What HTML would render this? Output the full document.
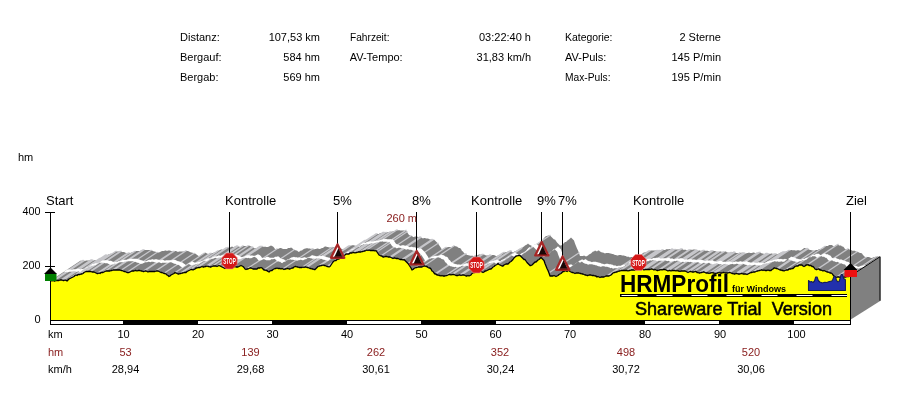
<!DOCTYPE html>
<html lang="de"><head><meta charset="utf-8"><title>HRMProfil</title>
<style>
html,body{margin:0;padding:0;background:#fff;}
body{width:900px;height:400px;overflow:hidden;font-family:"Liberation Sans",Arial,sans-serif;}
svg{display:block;font-family:"Liberation Sans",Arial,sans-serif;}
.t11{font-size:11px;fill:#000;}
.t13{font-size:13px;fill:#000;}
.m{fill:#8a2020;}
</style></head><body>
<svg width="900" height="400" viewBox="0 0 900 400">
<rect width="900" height="400" fill="#fff"/>
<!-- header -->
<g class="t11">
<text x="180" y="41">Distanz:</text><text x="320" y="41" text-anchor="end">107,53 km</text>
<text x="180" y="61">Bergauf:</text><text x="320" y="61" text-anchor="end">584 hm</text>
<text x="180" y="81">Bergab:</text><text x="320" y="81" text-anchor="end">569 hm</text>
<text x="350" y="41" textLength="39.5" lengthAdjust="spacingAndGlyphs">Fahrzeit:</text><text x="531" y="41" text-anchor="end">03:22:40 h</text>
<text x="349.7" y="61">AV-Tempo:</text><text x="531" y="61" text-anchor="end">31,83 km/h</text>
<text x="565" y="41" textLength="47.5" lengthAdjust="spacingAndGlyphs">Kategorie:</text><text x="721" y="41" text-anchor="end">2 Sterne</text>
<text x="565" y="61">AV-Puls:</text><text x="721" y="61" text-anchor="end">145 P/min</text>
<text x="565" y="81" textLength="45.5" lengthAdjust="spacingAndGlyphs">Max-Puls:</text><text x="721" y="81" text-anchor="end">195 P/min</text>
<text x="18" y="161">hm</text>
<text x="40.5" y="215" text-anchor="end" textLength="18" lengthAdjust="spacingAndGlyphs">400</text>
<text x="40.5" y="269" text-anchor="end" textLength="18" lengthAdjust="spacingAndGlyphs">200</text>
<text x="40.5" y="323" text-anchor="end">0</text>
</g>
<!-- axis -->
<path d="M50.5 212V282M45 212.5H55M45 266.5H55" stroke="#000" stroke-width="1" fill="none"/>
<!-- profile -->
<polygon points="50,281 51,280.5 52,281 53,280.5 54,281 55,281 56,280.5 57,280.5 58,280.5 59,280.5 60,280 61,280 62,280 63,280.5 64,280.5 65,280 66,280.5 67,281 68,280 69,279 70,278.5 71,278 72,277.5 73,277 74,276.5 75,275.5 76,275 77,275.5 78,274.5 79,274.5 80,274.5 81,274 82,274 83,273.5 84,272.5 85,272 86,271.5 87,271.5 88,271.5 89,271.5 90,271.5 91,271.5 92,272 93,272 94,272 95,272.5 96,273 97,273.5 98,273.5 99,273 100,273.5 101,272.5 102,272.5 103,272.5 104,272 105,271.5 106,271 107,271 108,271 109,271 110,271 111,270.5 112,270.5 113,270 114,270 115,270 116,270 117,270 118,270 119,270 120,270 121,270.5 122,270.5 123,271 124,271.5 125,271.5 126,272 127,272.5 128,272.5 129,272.5 130,272 131,271.5 132,271 133,271 134,271 135,270.5 136,270.5 137,271 138,270.5 139,270.5 140,270.5 141,271 142,271 143,271.5 144,271.5 145,271 146,271 147,271.5 148,272 149,271.5 150,271.5 151,271.5 152,271.5 153,271.5 154,271.5 155,271.5 156,271 157,271 158,271 159,271.5 160,272 161,272.5 162,272.5 163,273 164,273.5 165,273.5 166,274 167,275 168,275.5 169,276.5 170,276 171,275 172,274.5 173,274 174,273.5 175,272.5 176,273 177,273.5 178,274 179,274 180,273.5 181,273.5 182,273 183,273 184,272.5 185,272.5 186,272.5 187,271.5 188,271 189,270.5 190,270 191,269.5 192,269.5 193,270 194,269.5 195,269 196,268 197,268 198,267.5 199,267.5 200,267.5 201,267 202,266.5 203,267 204,267 205,266.5 206,266.5 207,266 208,266.5 209,266.5 210,267 211,267 212,266.5 213,266 214,266 215,266 216,266 217,266.5 218,266 219,265.5 220,266 221,266.5 222,267 223,267.5 224,268 225,268.5 226,268 227,268 228,267.5 229,267 230,266.5 231,266.5 232,266.5 233,266.5 234,267 235,266.5 236,267 237,267 238,267 239,266.5 240,266 241,265.5 242,266 243,266.5 244,267.5 245,269 246,269.5 247,269 248,269 249,268.5 250,268 251,268 252,268.5 253,269 254,269 255,269 256,269 257,269 258,268 259,268 260,268 261,267.5 262,268 263,269 264,270 265,270 266,270.5 267,270.5 268,271.5 269,272 270,271 271,270.5 272,270.5 273,269.5 274,269 275,268.5 276,268.5 277,268 278,268.5 279,268.5 280,268.5 281,269 282,268.5 283,269 284,269.5 285,269 286,269 287,268.5 288,268.5 289,269 290,269 291,268.5 292,268 293,268 294,267 295,266.5 296,266.5 297,267 298,267 299,267.5 300,267.5 301,267.5 302,267.5 303,267 304,267.5 305,267 306,267 307,267.5 308,267.5 309,268 310,268.5 311,268.5 312,269 313,269 314,269.5 315,269.5 316,268.5 317,267.5 318,266.5 319,266 320,266 321,265.5 322,265.5 323,265 324,265.5 325,265.5 326,266 327,266.5 328,266.5 329,267 330,266.5 331,265 332,263.5 333,262 334,261 335,260.5 336,260.5 337,259.5 338,259 339,259 340,258.5 341,257.5 342,256.5 343,256.5 344,255.5 345,255 346,254 347,254 348,254 349,254 350,253 351,253 352,253 353,252.5 354,252.5 355,253 356,252.5 357,252.5 358,252 359,252 360,252 361,252 362,251.5 363,251.5 364,251 365,251 366,250.5 367,250 368,250.5 369,250 370,250.5 371,250.5 372,250.5 373,250.5 374,250.5 375,251 376,250.5 377,252 378,253.5 379,255 380,255.5 381,256 382,256 383,257 384,257 385,256.5 386,256.5 387,256.5 388,257 389,257 390,257 391,257.5 392,258 393,258.5 394,258 395,258 396,258.5 397,258.5 398,258.5 399,259 400,259.5 401,259.5 402,259.5 403,260 404,259.5 405,260.5 406,261.5 407,262.5 408,263.5 409,265 410,266.5 411,268 412,270 413,269.5 414,268.5 415,268 416,267.5 417,267.5 418,267 419,267 420,267 421,267 422,267 423,266.5 424,266 425,266 426,266.5 427,266.5 428,267.5 429,268 430,268 431,269 432,271 433,271.5 434,273 435,274 436,274 437,275 438,275 439,275.5 440,275.5 441,276 442,275.5 443,276 444,276 445,276 446,275.5 447,275.5 448,275 449,274.5 450,274.5 451,275 452,274.5 453,274.5 454,274.5 455,275 456,275.5 457,275.5 458,275.5 459,275 460,275 461,275.5 462,275 463,275 464,275 465,275.5 466,276 467,276 468,275.5 469,276 470,275.5 471,275 472,273.5 473,273 474,272.5 475,272.5 476,272 477,272 478,271.5 479,271.5 480,271 481,271 482,272 483,272.5 484,272 485,271 486,271 487,270.5 488,270 489,269.5 490,269 491,269 492,268 493,267 494,266.5 495,265.5 496,265 497,264.5 498,263.5 499,264.5 500,265 501,265.5 502,266 503,266 504,265 505,264.5 506,264 507,264 508,264 509,263 510,262 511,261.5 512,260.5 513,259.5 514,258 515,257 516,256 517,256 518,255.5 519,255.5 520,255.5 521,256.5 522,257.5 523,258.5 524,259.5 525,259.5 526,261 527,262.5 528,263.5 529,264.5 530,265.5 531,265.5 532,265 533,264 534,263 535,262 536,262 537,261 538,260 539,259.5 540,258.5 541,257.5 542,258.5 543,259.5 544,260.5 545,263.5 546,266 547,268.5 548,270.5 549,273 550,276 551,276 552,276 553,276 554,275.5 555,276 556,276.5 557,276 558,275.5 559,274.5 560,274 561,273.5 562,272.5 563,271.5 564,271.5 565,270.5 566,271 567,271.5 568,270.5 569,270.5 570,271.5 571,272 572,272.5 573,272.5 574,273 575,273.5 576,273 577,273 578,273 579,273 580,273.5 581,273.5 582,274 583,274 584,274.5 585,275 586,275 587,275.5 588,275.5 589,275 590,275 591,275 592,275.5 593,275.5 594,275.5 595,276 596,276 597,277 598,276.5 599,277 600,277.5 601,277 602,277 603,277 604,277 605,276.5 606,276 607,276 608,276 609,276 610,275.5 611,275 612,274 613,273 614,272.5 615,272.5 616,272 617,272 618,271.5 619,271 620,271 621,270.5 622,270.5 623,270.5 624,270.5 625,270.5 626,270.5 627,270.5 628,271 629,270.5 630,270.5 631,270 632,270 633,270 634,270 635,270 636,269.5 637,269 638,269.5 639,269 640,269 641,269 642,269 643,269.5 644,270 645,269.5 646,269.5 647,269.5 648,269.5 649,269.5 650,269.5 651,269 652,269 653,269.5 654,270 655,269.5 656,270 657,270.5 658,270.5 659,270 660,270 661,269.5 662,270 663,269.5 664,269.5 665,269.5 666,270 667,270.5 668,271 669,270.5 670,270.5 671,271 672,270.5 673,270.5 674,270.5 675,270.5 676,271 677,270.5 678,271 679,271 680,271.5 681,271 682,271 683,271 684,271 685,271 686,271.5 687,272 688,272.5 689,272 690,271.5 691,271.5 692,272 693,272 694,272 695,271.5 696,271.5 697,272.5 698,272.5 699,273 700,273 701,272.5 702,272.5 703,272 704,272 705,272.5 706,273 707,273 708,273 709,273.5 710,273 711,273 712,272.5 713,273 714,273 715,273.5 716,273.5 717,273 718,273 719,272.5 720,273 721,273 722,273 723,272.5 724,272.5 725,273 726,273 727,273 728,273 729,272.5 730,272.5 731,273 732,273.5 733,273.5 734,274 735,274 736,273.5 737,273.5 738,274 739,274 740,274 741,273.5 742,273.5 743,274 744,274 745,274 746,274 747,274.5 748,274 749,273.5 750,273 751,272.5 752,272.5 753,272 754,272 755,272 756,271.5 757,271 758,271 759,270.5 760,270.5 761,270 762,270 763,270.5 764,270 765,270.5 766,270.5 767,270.5 768,270 769,270.5 770,270.5 771,270.5 772,269.5 773,269 774,268 775,268 776,268.5 777,268.5 778,269 779,269.5 780,270 781,270 782,270.5 783,270.5 784,271 785,270.5 786,270 787,270 788,270 789,269 790,269 791,269 792,268.5 793,268.5 794,267.5 795,266.5 796,266 797,266 798,266 799,265 800,265 801,265 802,265 803,266 804,266.5 805,266 806,265 807,265 808,264.5 809,265.5 810,265.5 811,265.5 812,266.5 813,266.5 814,267.5 815,269 816,269.5 817,269.5 818,269 819,269 820,270 821,270 822,270.5 823,271 824,270.5 825,271 826,271.5 827,272 828,272 829,272.5 830,273 831,273 832,273.5 833,275 834,276 835,277 836,277.5 837,277 838,277 839,277 840,277.5 841,278 842,278 843,277.5 844,277 845,277 846,277 847,276.5 848,276.5 849,276.5 850,276 880,256 879,256.5 878,256.5 877,256.5 876,257 875,257 874,257 873,257.5 872,258 871,258 870,257.5 869,257 868,257 867,257 866,257.5 865,257 864,256 863,255 862,253.5 861,253 860,253 859,252.5 858,252 857,252 856,251.5 855,251 854,250.5 853,251 852,250.5 851,250 850,250 849,249 848,249 847,249.5 846,249.5 845,249 844,247.5 843,246.5 842,246.5 841,245.5 840,245.5 839,245.5 838,244.5 837,245 836,245 835,246 834,246.5 833,246 832,245 831,245 830,245 829,245 828,246 827,246 826,246 825,246.5 824,247.5 823,248.5 822,248.5 821,249 820,249 819,249 818,250 817,250 816,250 815,250.5 814,251 813,250.5 812,250.5 811,250 810,250 809,249.5 808,249 807,248.5 806,248.5 805,248 804,248 803,249 802,249.5 801,250.5 800,250.5 799,250.5 798,250 797,250.5 796,250.5 795,250.5 794,250 793,250.5 792,250 791,250 790,250.5 789,250.5 788,251 787,251 786,251.5 785,252 784,252 783,252 782,252.5 781,252.5 780,253 779,253.5 778,254 777,254.5 776,254 775,254 774,254 773,254 772,253.5 771,253.5 770,254 769,254 768,254 767,253.5 766,253.5 765,254 764,254 763,253.5 762,253.5 761,253 760,252.5 759,252.5 758,253 757,253 756,253 755,253 754,252.5 753,252.5 752,253 751,253 750,253 749,252.5 748,253 747,253 746,253.5 745,253.5 744,253 743,253 742,252.5 741,253 740,253 739,253.5 738,253 737,253 736,253 735,252.5 734,252 733,252 732,252.5 731,252.5 730,253 729,253 728,252.5 727,252.5 726,251.5 725,251.5 724,252 723,252 722,252 721,251.5 720,251.5 719,252 718,252.5 717,252 716,251.5 715,251 714,251 713,251 712,251 711,251 710,251.5 709,251 708,251 707,250.5 706,251 705,250.5 704,250.5 703,250.5 702,250.5 701,251 700,250.5 699,250.5 698,251 697,250.5 696,250 695,249.5 694,249.5 693,249.5 692,250 691,249.5 690,250 689,250 688,250.5 687,250.5 686,250 685,249.5 684,250 683,249.5 682,249 681,249 680,249.5 679,249.5 678,249.5 677,249.5 676,249.5 675,249.5 674,250 673,249.5 672,249 671,249 670,249 669,249 668,249.5 667,249 666,249.5 665,250 664,250 663,250 662,250 661,250 660,250.5 659,250.5 658,251 657,250.5 656,250.5 655,250.5 654,250.5 653,250.5 652,250.5 651,250.5 650,251 649,251 648,251.5 647,252 646,252 645,252.5 644,252.5 643,253 642,254 641,255 640,255.5 639,256 638,256 637,256 636,256 635,256.5 634,257 633,257 632,257 631,257 630,257.5 629,257 628,256.5 627,257 626,256 625,256 624,255.5 623,255.5 622,255.5 621,255 620,255 619,255 618,255.5 617,255.5 616,255 615,255 614,254.5 613,254 612,254 611,253.5 610,253.5 609,253 608,253 607,253 606,253 605,253.5 604,253 603,252.5 602,252.5 601,252 600,251.5 599,250.5 598,250.5 597,251.5 596,251 595,250.5 594,251.5 593,251.5 592,252.5 591,253.5 590,254 589,254.5 588,255.5 587,256 586,256.5 585,256 584,255.5 583,256 582,256 581,256 580,256 579,253 578,250.5 577,248.5 576,246 575,243.5 574,240.5 573,239.5 572,238.5 571,237.5 570,238.5 569,239.5 568,240 567,241 566,242 565,242 564,243 563,244 562,245 561,245.5 560,245.5 559,244.5 558,243.5 557,242.5 556,241 555,239.5 554,239.5 553,238.5 552,237.5 551,236.5 550,235.5 549,235.5 548,235.5 547,236 546,236 545,237 544,238 543,239.5 542,240.5 541,241.5 540,242 539,243 538,244 537,244 536,244 535,244.5 534,245 533,246 532,246 531,245.5 530,245 529,244.5 528,243.5 527,244.5 526,245 525,245.5 524,246.5 523,247 522,248 521,249 520,249 519,249.5 518,250 517,250.5 516,251 515,251 514,252 513,252.5 512,252 511,251 510,251 509,251.5 508,251.5 507,252 506,252 505,252.5 504,252.5 503,253 502,253.5 501,255 500,255.5 499,256 498,255.5 497,256 496,256 495,255.5 494,255 493,255 492,255 491,255.5 490,255 489,255 488,255.5 487,255.5 486,255.5 485,255 484,254.5 483,254.5 482,254.5 481,255 480,254.5 479,254.5 478,255 477,255.5 476,255.5 475,256 474,256 473,256 472,255.5 471,256 470,255.5 469,255.5 468,255 467,255 466,254 465,254 464,253 463,251.5 462,251 461,249 460,248 459,248 458,247.5 457,246.5 456,246.5 455,246 454,246 453,246.5 452,247 451,247 450,247 449,247 448,247 447,247.5 446,247.5 445,248 444,248.5 443,249.5 442,250 441,248 440,246.5 439,245 438,243.5 437,242.5 436,241.5 435,240.5 434,239.5 433,240 432,239.5 431,239.5 430,239.5 429,239 428,238.5 427,238.5 426,238.5 425,238 424,238 423,238.5 422,238 421,237.5 420,237 419,237 418,237 417,236.5 416,236.5 415,236.5 414,237 413,237 412,236 411,236 410,235.5 409,235 408,233.5 407,232 406,230.5 405,231 404,230.5 403,230.5 402,230.5 401,230.5 400,230.5 399,230 398,230.5 397,230 396,230.5 395,231 394,231 393,231.5 392,231.5 391,232 390,232 389,232 388,232 387,232.5 386,232.5 385,233 384,232.5 383,232.5 382,233 381,233 380,233 379,234 378,234 377,234 376,234 375,235 374,235.5 373,236.5 372,236.5 371,237.5 370,238.5 369,239 368,239 367,239.5 366,240.5 365,240.5 364,241 363,242 362,243.5 361,245 360,246.5 359,247 358,246.5 357,246.5 356,246 355,245.5 354,245.5 353,245 352,245.5 351,245.5 350,246 349,246 348,246.5 347,247.5 346,248.5 345,249.5 344,249.5 343,249 342,249 341,248.5 340,248.5 339,248 338,247.5 337,247.5 336,247 335,247 334,247.5 333,247 332,247.5 331,247.5 330,247.5 329,247.5 328,247 327,247 326,246.5 325,246.5 324,247 323,248 322,248 321,248.5 320,249 319,249 318,248.5 317,248.5 316,249 315,249 314,249.5 313,249 312,248.5 311,249 310,248.5 309,248.5 308,248.5 307,248 306,248.5 305,248.5 304,249 303,249.5 302,250.5 301,250.5 300,251 299,252 298,251.5 297,250.5 296,250.5 295,250 294,250 293,249 292,248 291,247.5 290,248 289,248 288,248 287,249 286,249 285,249 284,249 283,249 282,248.5 281,248 280,248 279,248.5 278,249 277,249 276,249.5 275,249 274,247.5 273,246.5 272,246 271,245.5 270,246 269,246.5 268,247 267,247 266,247 265,246.5 264,247 263,246.5 262,246.5 261,246.5 260,246.5 259,247 258,247.5 257,248 256,248 255,248.5 254,248 253,247.5 252,247 251,246.5 250,246 249,245.5 248,246 247,246.5 246,246 245,246 244,246 243,246 242,246.5 241,247 240,247 239,246.5 238,246.5 237,246 236,246.5 235,246.5 234,247 233,247 232,246.5 231,247 230,247.5 229,247.5 228,247.5 227,248 226,248 225,249 224,249.5 223,250 222,249.5 221,249.5 220,250 219,250.5 218,251 217,251.5 216,252.5 215,252.5 214,252.5 213,253 212,253 211,253.5 210,253.5 209,254 208,254 207,253.5 206,253 205,252.5 204,253.5 203,254 202,254.5 201,255 200,256 199,256.5 198,255.5 197,255 196,254 195,253.5 194,253.5 193,253 192,252.5 191,252.5 190,252 189,251.5 188,251 187,251 186,251 185,251.5 184,251.5 183,251.5 182,251.5 181,251.5 180,251.5 179,251.5 178,252 177,251.5 176,251 175,251 174,251.5 173,251.5 172,251 171,251 170,250.5 169,250.5 168,250.5 167,251 166,250.5 165,250.5 164,251 163,251 162,251 161,251.5 160,252 159,252.5 158,252.5 157,252.5 156,252 155,251.5 154,251.5 153,251 152,250.5 151,250.5 150,250 149,250 148,250 147,250 146,250 145,250 144,250 143,250 142,250.5 141,250.5 140,251 139,251 138,251 137,251 136,251 135,251.5 134,252 133,252.5 132,252.5 131,252.5 130,253.5 129,253 128,253.5 127,253.5 126,253 125,252.5 124,252 123,252 122,252 121,251.5 120,251.5 119,251.5 118,251.5 117,251.5 116,251.5 115,252 114,252.5 113,253.5 112,254 111,254 110,254.5 109,254.5 108,254.5 107,255.5 106,255 105,255.5 104,256.5 103,257 102,257.5 101,258 100,258.5 99,259 98,260 97,261 96,260.5 95,260 94,260.5 93,260.5 92,260 91,260 90,260 89,260.5 88,260.5 87,260.5 86,260.5 85,261 84,261 83,260.5 82,261 81,260.5 80,261" fill="#808080"/>
<path d="M53.5 280l30 -20M54.5 280.5l30 -20M61.5 279.5l30 -20M62.5 279.5l30 -20M63.5 280l30 -20M68.5 279.5l30 -20M69.5 278.5l30 -20M70.5 278l30 -20M74.5 276l30 -20M75.5 275l30 -20M76.5 274.5l30 -20M77.5 275l30 -20M81.5 273.5l30 -20M82.5 273.5l30 -20M85.5 271.5l30 -20M86.5 271l30 -20M90.5 271l30 -20M91.5 271l30 -20M97.5 273l30 -20M98.5 273l30 -20M99.5 272.5l30 -20M103.5 272l30 -20M104.5 271.5l30 -20M105.5 271l30 -20M112.5 270l30 -20M113.5 269.5l30 -20M114.5 269.5l30 -20M121.5 270l30 -20M127.5 272l30 -20M143.5 271l30 -20M144.5 271l30 -20M155.5 271l30 -20M156.5 270.5l30 -20M164.5 273l30 -20M174.5 273l30 -20M180.5 273l30 -20M181.5 273l30 -20M186.5 272l30 -20M187.5 271l30 -20M188.5 270.5l30 -20M195.5 268.5l30 -20M196.5 267.5l30 -20M197.5 267.5l30 -20M198.5 267l30 -20M206.5 266l30 -20M207.5 265.5l30 -20M208.5 266l30 -20M212.5 266l30 -20M213.5 265.5l30 -20M217.5 266l30 -20M218.5 265.5l30 -20M222.5 266.5l30 -20M223.5 267l30 -20M229.5 266.5l30 -20M230.5 266l30 -20M231.5 266l30 -20M232.5 266l30 -20M247.5 268.5l30 -20M264.5 269.5l30 -20M283.5 268.5l30 -20M302.5 267l30 -20M306.5 266.5l30 -20M307.5 267l30 -20M318.5 266l30 -20M319.5 265.5l30 -20M320.5 265.5l30 -20M327.5 266l30 -20M328.5 266l30 -20M333.5 261.5l30 -20M334.5 260.5l30 -20M335.5 260l30 -20M340.5 258l30 -20M341.5 257l30 -20M342.5 256l30 -20M346.5 253.5l30 -20M347.5 253.5l30 -20M353.5 252l30 -20M354.5 252l30 -20M355.5 252.5l30 -20M356.5 252l30 -20M360.5 251.5l30 -20M361.5 251.5l30 -20M366.5 250l30 -20M367.5 249.5l30 -20M375.5 250.5l30 -20M376.5 250l30 -20M377.5 251.5l30 -20M381.5 255.5l30 -20M390.5 256.5l30 -20M391.5 257l30 -20M402.5 259l30 -20M403.5 259.5l30 -20M408.5 263l30 -20M415.5 267.5l30 -20M416.5 267l30 -20M424.5 265.5l30 -20M435.5 273.5l30 -20M436.5 273.5l30 -20M445.5 275.5l30 -20M446.5 275l30 -20M451.5 274.5l30 -20M452.5 274l30 -20M453.5 274l30 -20M460.5 274.5l30 -20M461.5 275l30 -20M471.5 274.5l30 -20M472.5 273l30 -20M473.5 272.5l30 -20M474.5 272l30 -20M479.5 271l30 -20M480.5 270.5l30 -20M481.5 270.5l30 -20M490.5 268.5l30 -20M491.5 268.5l30 -20M492.5 267.5l30 -20M520.5 255l30 -20M549.5 272.5l30 -20M607.5 275.5l30 -20M608.5 275.5l30 -20M618.5 271l30 -20M619.5 270.5l30 -20M620.5 270.5l30 -20M627.5 270l30 -20M628.5 270.5l30 -20M629.5 270l30 -20M632.5 269.5l30 -20M633.5 269.5l30 -20M642.5 268.5l30 -20M643.5 269l30 -20M644.5 269.5l30 -20M645.5 269l30 -20M650.5 269l30 -20M651.5 268.5l30 -20M652.5 268.5l30 -20M658.5 270l30 -20M659.5 269.5l30 -20M660.5 269.5l30 -20M666.5 269.5l30 -20M667.5 270l30 -20M668.5 270.5l30 -20M673.5 270l30 -20M674.5 270l30 -20M681.5 270.5l30 -20M682.5 270.5l30 -20M683.5 270.5l30 -20M687.5 271.5l30 -20M688.5 272l30 -20M689.5 271.5l30 -20M693.5 271.5l30 -20M694.5 271.5l30 -20M699.5 272.5l30 -20M700.5 272.5l30 -20M701.5 272l30 -20M704.5 271.5l30 -20M705.5 272l30 -20M709.5 273l30 -20M710.5 272.5l30 -20M713.5 272.5l30 -20M714.5 272.5l30 -20M715.5 273l30 -20M727.5 272.5l30 -20M728.5 272.5l30 -20M729.5 272l30 -20M730.5 272l30 -20M736.5 273l30 -20M737.5 273l30 -20M738.5 273.5l30 -20M739.5 273.5l30 -20M744.5 273.5l30 -20M745.5 273.5l30 -20M746.5 273.5l30 -20M752.5 272l30 -20M753.5 271.5l30 -20M754.5 271.5l30 -20M755.5 271.5l30 -20M758.5 270.5l30 -20M759.5 270l30 -20M777.5 268l30 -20M778.5 268.5l30 -20M784.5 270.5l30 -20M795.5 266l30 -20M807.5 264.5l30 -20M808.5 264l30 -20M817.5 269l30 -20M818.5 268.5l30 -20M827.5 271.5l30 -20M836.5 277l30 -20M846.5 276.5l30 -20" stroke="#c6c6ca" stroke-width="1.25" fill="none"/>
<polygon points="63.2,272.2 64.2,271.7 65.2,272.2 66.2,271.7 67.2,272.2 68.2,272.2 69.2,271.7 70.2,271.7 71.2,271.7 72.2,271.7 73.2,271.2 74.2,271.2 75.2,271.2 76.2,271.7 77.2,271.7 78.2,271.2 79.2,271.7 80.2,272.2 81.2,271.2 82.2,270.2 83.2,269.7 84.2,269.2 85.2,268.7 86.2,268.2 87.2,267.7 88.2,266.7 89.2,266.2 90.2,266.7 91.2,265.7 92.2,265.7 93.2,265.7 94.2,265.2 95.2,265.2 96.2,264.7 97.2,263.7 98.2,263.2 99.2,262.7 100.2,262.7 101.2,262.7 102.2,262.7 103.2,262.7 104.2,262.7 105.2,263.2 106.2,263.2 107.2,263.2 108.2,263.7 109.2,264.2 110.2,264.7 111.2,264.7 112.2,264.2 113.2,264.7 114.2,263.7 115.2,263.7 116.2,263.7 117.2,263.2 118.2,262.7 119.2,262.2 120.2,262.2 121.2,262.2 122.2,262.2 123.2,262.2 124.2,261.7 125.2,261.7 126.2,261.2 127.2,261.2 128.2,261.2 129.2,261.2 130.2,261.2 131.2,261.2 132.2,261.2 133.2,261.2 134.2,261.7 135.2,261.7 136.2,262.2 137.2,262.7 138.2,262.7 139.2,263.2 140.2,263.7 141.2,263.7 142.2,263.7 143.2,263.2 144.2,262.7 145.2,262.2 146.2,262.2 147.2,262.2 148.2,261.7 149.2,261.7 150.2,262.2 151.2,261.7 152.2,261.7 153.2,261.7 154.2,262.2 155.2,262.2 156.2,262.7 157.2,262.7 158.2,262.2 159.2,262.2 160.2,262.7 161.2,263.2 162.2,262.7 163.2,262.7 164.2,262.7 165.2,262.7 166.2,262.7 167.2,262.7 168.2,262.7 169.2,262.2 170.2,262.2 171.2,262.2 172.2,262.7 173.2,263.2 174.2,263.7 175.2,263.7 176.2,264.2 177.2,264.7 178.2,264.7 179.2,265.2 180.2,266.2 181.2,266.7 182.2,267.7 183.2,267.2 184.2,266.2 185.2,265.7 186.2,265.2 187.2,264.7 188.2,263.7 189.2,264.2 190.2,264.7 191.2,265.2 192.2,265.2 193.2,264.7 194.2,264.7 195.2,264.2 196.2,264.2 197.2,263.7 198.2,263.7 199.2,263.7 200.2,262.7 201.2,262.2 202.2,261.7 203.2,261.2 204.2,260.7 205.2,260.7 206.2,261.2 207.2,260.7 208.2,260.2 209.2,259.2 210.2,259.2 211.2,258.7 212.2,258.7 213.2,258.7 214.2,258.2 215.2,257.7 216.2,258.2 217.2,258.2 218.2,257.7 219.2,257.7 220.2,257.2 221.2,257.7 222.2,257.7 223.2,258.2 224.2,258.2 225.2,257.7 226.2,257.2 227.2,257.2 228.2,257.2 229.2,257.2 230.2,257.7 231.2,257.2 232.2,256.7 233.2,257.2 234.2,257.7 235.2,258.2 236.2,258.7 237.2,259.2 238.2,259.7 239.2,259.2 240.2,259.2 241.2,258.7 242.2,258.2 243.2,257.7 244.2,257.7 245.2,257.7 246.2,257.7 247.2,258.2 248.2,257.7 249.2,258.2 250.2,258.2 251.2,258.2 252.2,257.7 253.2,257.2 254.2,256.7 255.2,257.2 256.2,257.7 257.2,258.7 258.2,260.2 259.2,260.7 260.2,260.2 261.2,260.2 262.2,259.7 263.2,259.2 264.2,259.2 265.2,259.7 266.2,260.2 267.2,260.2 268.2,260.2 269.2,260.2 270.2,260.2 271.2,259.2 272.2,259.2 273.2,259.2 274.2,258.7 275.2,259.2 276.2,260.2 277.2,261.2 278.2,261.2 279.2,261.7 280.2,261.7 281.2,262.7 282.2,263.2 283.2,262.2 284.2,261.7 285.2,261.7 286.2,260.7 287.2,260.2 288.2,259.7 289.2,259.7 290.2,259.2 291.2,259.7 292.2,259.7 293.2,259.7 294.2,260.2 295.2,259.7 296.2,260.2 297.2,260.7 298.2,260.2 299.2,260.2 300.2,259.7 301.2,259.7 302.2,260.2 303.2,260.2 304.2,259.7 305.2,259.2 306.2,259.2 307.2,258.2 308.2,257.7 309.2,257.7 310.2,258.2 311.2,258.2 312.2,258.7 313.2,258.7 314.2,258.7 315.2,258.7 316.2,258.2 317.2,258.7 318.2,258.2 319.2,258.2 320.2,258.7 321.2,258.7 322.2,259.2 323.2,259.7 324.2,259.7 325.2,260.2 326.2,260.2 327.2,260.7 328.2,260.7 329.2,259.7 330.2,258.7 331.2,257.7 332.2,257.2 333.2,257.2 334.2,256.7 335.2,256.7 336.2,256.2 337.2,256.7 338.2,256.7 339.2,257.2 340.2,257.7 341.2,257.7 342.2,258.2 343.2,257.7 344.2,256.2 345.2,254.7 346.2,253.2 347.2,252.2 348.2,251.7 349.2,251.7 350.2,250.7 351.2,250.2 352.2,250.2 353.2,249.7 354.2,248.7 355.2,247.7 356.2,247.7 357.2,246.7 358.2,246.2 359.2,245.2 360.2,245.2 361.2,245.2 362.2,245.2 363.2,244.2 364.2,244.2 365.2,244.2 366.2,243.7 367.2,243.7 368.2,244.2 369.2,243.7 370.2,243.7 371.2,243.2 372.2,243.2 373.2,243.2 374.2,243.2 375.2,242.7 376.2,242.7 377.2,242.2 378.2,242.2 379.2,241.7 380.2,241.2 381.2,241.7 382.2,241.2 383.2,241.7 384.2,241.7 385.2,241.7 386.2,241.7 387.2,241.7 388.2,242.2 389.2,241.7 390.2,243.2 391.2,244.7 392.2,246.2 393.2,246.7 394.2,247.2 395.2,247.2 396.2,248.2 397.2,248.2 398.2,247.7 399.2,247.7 400.2,247.7 401.2,248.2 402.2,248.2 403.2,248.2 404.2,248.7 405.2,249.2 406.2,249.7 407.2,249.2 408.2,249.2 409.2,249.7 410.2,249.7 411.2,249.7 412.2,250.2 413.2,250.7 414.2,250.7 415.2,250.7 416.2,251.2 417.2,250.7 418.2,251.7 419.2,252.7 420.2,253.7 421.2,254.7 422.2,256.2 423.2,257.7 424.2,259.2 425.2,261.2 426.2,260.7 427.2,259.7 428.2,259.2 429.2,258.7 430.2,258.7 431.2,258.2 432.2,258.2 433.2,258.2 434.2,258.2 435.2,258.2 436.2,257.7 437.2,257.2 438.2,257.2 439.2,257.7 440.2,257.7 441.2,258.7 442.2,259.2 443.2,259.2 444.2,260.2 445.2,262.2 446.2,262.7 447.2,264.2 448.2,265.2 449.2,265.2 450.2,266.2 451.2,266.2 452.2,266.7 453.2,266.7 454.2,267.2 455.2,266.7 456.2,267.2 457.2,267.2 458.2,267.2 459.2,266.7 460.2,266.7 461.2,266.2 462.2,265.7 463.2,265.7 464.2,266.2 465.2,265.7 466.2,265.7 467.2,265.7 468.2,266.2 469.2,266.7 470.2,266.7 471.2,266.7 472.2,266.2 473.2,266.2 474.2,266.7 475.2,266.2 476.2,266.2 477.2,266.2 478.2,266.7 479.2,267.2 480.2,267.2 481.2,266.7 482.2,267.2 483.2,266.7 484.2,266.2 485.2,264.7 486.2,264.2 487.2,263.7 488.2,263.7 489.2,263.2 490.2,263.2 491.2,262.7 492.2,262.7 493.2,262.2 494.2,262.2 495.2,263.2 496.2,263.7 497.2,263.2 498.2,262.2 499.2,262.2 500.2,261.7 501.2,261.2 502.2,260.7 503.2,260.2 504.2,260.2 505.2,259.2 506.2,258.2 507.2,257.7 508.2,256.7 509.2,256.2 510.2,255.7 511.2,254.7 512.2,255.7 513.2,256.2 514.2,256.7 515.2,257.2 516.2,257.2 517.2,256.2 518.2,255.7 519.2,255.2 520.2,255.2 521.2,255.2 522.2,254.2 523.2,253.2 524.2,252.7 525.2,251.7 526.2,250.7 527.2,249.2 528.2,248.2 529.2,247.2 530.2,247.2 531.2,246.7 532.2,246.7 533.2,246.7 534.2,247.7 535.2,248.7 536.2,249.7 537.2,250.7 538.2,250.7 539.2,252.2 540.2,253.7 541.2,254.7 542.2,255.7 543.2,256.7 544.2,256.7 545.2,256.2 546.2,255.2 547.2,254.2 548.2,253.2 549.2,253.2 550.2,252.2 551.2,251.2 552.2,250.7 553.2,249.7 554.2,248.7 555.2,249.7 556.2,250.7 557.2,251.7 558.2,254.7 559.2,257.2 560.2,259.7 561.2,261.7 562.2,264.2 563.2,267.2 564.2,267.2 565.2,267.2 566.2,267.2 567.2,266.7 568.2,267.2 569.2,267.7 570.2,267.2 571.2,266.7 572.2,265.7 573.2,265.2 574.2,264.7 575.2,263.7 576.2,262.7 577.2,262.7 578.2,261.7 579.2,262.2 580.2,262.7 581.2,261.7 582.2,261.7 583.2,262.7 584.2,263.2 585.2,263.7 586.2,263.7 587.2,264.2 588.2,264.7 589.2,264.2 590.2,264.2 591.2,264.2 592.2,264.2 593.2,264.7 594.2,264.7 595.2,265.2 596.2,265.2 597.2,265.7 598.2,266.2 599.2,266.2 600.2,266.7 601.2,266.7 602.2,266.2 603.2,266.2 604.2,266.2 605.2,266.7 606.2,266.7 607.2,266.7 608.2,267.2 609.2,267.2 610.2,268.2 611.2,267.7 612.2,268.2 613.2,268.7 614.2,268.2 615.2,268.2 616.2,268.2 617.2,268.2 618.2,267.7 619.2,267.2 620.2,267.2 621.2,267.2 622.2,267.2 623.2,266.7 624.2,266.2 625.2,265.2 626.2,264.2 627.2,263.7 628.2,263.7 629.2,263.2 630.2,263.2 631.2,262.7 632.2,262.2 633.2,262.2 634.2,261.7 635.2,261.7 636.2,261.7 637.2,261.7 638.2,261.7 639.2,261.7 640.2,261.7 641.2,262.2 642.2,261.7 643.2,261.7 644.2,261.2 645.2,261.2 646.2,261.2 647.2,261.2 648.2,261.2 649.2,260.7 650.2,260.2 651.2,260.7 652.2,260.2 653.2,260.2 654.2,260.2 655.2,260.2 656.2,260.7 657.2,261.2 658.2,260.7 659.2,260.7 660.2,260.7 661.2,260.7 662.2,260.7 663.2,260.7 664.2,260.2 665.2,260.2 666.2,260.7 667.2,261.2 668.2,260.7 669.2,261.2 670.2,261.7 671.2,261.7 672.2,261.2 673.2,261.2 674.2,260.7 675.2,261.2 676.2,260.7 677.2,260.7 678.2,260.7 679.2,261.2 680.2,261.7 681.2,262.2 682.2,261.7 683.2,261.7 684.2,262.2 685.2,261.7 686.2,261.7 687.2,261.7 688.2,261.7 689.2,262.2 690.2,261.7 691.2,262.2 692.2,262.2 693.2,262.7 694.2,262.2 695.2,262.2 696.2,262.2 697.2,262.2 698.2,262.2 699.2,262.7 700.2,263.2 701.2,263.7 702.2,263.2 703.2,262.7 704.2,262.7 705.2,263.2 706.2,263.2 707.2,263.2 708.2,262.7 709.2,262.7 710.2,263.7 711.2,263.7 712.2,264.2 713.2,264.2 714.2,263.7 715.2,263.7 716.2,263.2 717.2,263.2 718.2,263.7 719.2,264.2 720.2,264.2 721.2,264.2 722.2,264.7 723.2,264.2 724.2,264.2 725.2,263.7 726.2,264.2 727.2,264.2 728.2,264.7 729.2,264.7 730.2,264.2 731.2,264.2 732.2,263.7 733.2,264.2 734.2,264.2 735.2,264.2 736.2,263.7 737.2,263.7 738.2,264.2 739.2,264.2 740.2,264.2 741.2,264.2 742.2,263.7 743.2,263.7 744.2,264.2 745.2,264.7 746.2,264.7 747.2,265.2 748.2,265.2 749.2,264.7 750.2,264.7 751.2,265.2 752.2,265.2 753.2,265.2 754.2,264.7 755.2,264.7 756.2,265.2 757.2,265.2 758.2,265.2 759.2,265.2 760.2,265.7 761.2,265.2 762.2,264.7 763.2,264.2 764.2,263.7 765.2,263.7 766.2,263.2 767.2,263.2 768.2,263.2 769.2,262.7 770.2,262.2 771.2,262.2 772.2,261.7 773.2,261.7 774.2,261.2 775.2,261.2 776.2,261.7 777.2,261.2 778.2,261.7 779.2,261.7 780.2,261.7 781.2,261.2 782.2,261.7 783.2,261.7 784.2,261.7 785.2,260.7 786.2,260.2 787.2,259.2 788.2,259.2 789.2,259.7 790.2,259.7 791.2,260.2 792.2,260.7 793.2,261.2 794.2,261.2 795.2,261.7 796.2,261.7 797.2,262.2 798.2,261.7 799.2,261.2 800.2,261.2 801.2,261.2 802.2,260.2 803.2,260.2 804.2,260.2 805.2,259.7 806.2,259.7 807.2,258.7 808.2,257.7 809.2,257.2 810.2,257.2 811.2,257.2 812.2,256.2 813.2,256.2 814.2,256.2 815.2,256.2 816.2,257.2 817.2,257.7 818.2,257.2 819.2,256.2 820.2,256.2 821.2,255.7 822.2,256.7 823.2,256.7 824.2,256.7 825.2,257.7 826.2,257.7 827.2,258.7 828.2,260.2 829.2,260.7 830.2,260.7 831.2,260.2 832.2,260.2 833.2,261.2 834.2,261.2 835.2,261.7 836.2,262.2 837.2,261.7 838.2,262.2 839.2,262.7 840.2,263.2 841.2,263.2 842.2,263.7 843.2,264.2 844.2,264.2 845.2,264.7 846.2,266.2 847.2,267.2 848.2,268.2 849.2,268.7 850.2,268.2 851.2,268.2 852.2,268.2 853.2,268.7 854.2,269.2 855.2,269.2 856.2,268.7 857.2,268.2 858.2,268.2 859.2,268.2 860.2,267.7 861.2,267.7 862.2,267.7 863.2,267.2 866.95,264.7 865.95,265.2 864.95,265.2 863.95,265.2 862.95,265.7 861.95,265.7 860.95,265.7 859.95,266.2 858.95,266.7 857.95,266.7 856.95,266.2 855.95,265.7 854.95,265.7 853.95,265.7 852.95,266.2 851.95,265.7 850.95,264.7 849.95,263.7 848.95,262.2 847.95,261.7 846.95,261.7 845.95,261.2 844.95,260.7 843.95,260.7 842.95,260.2 841.95,259.7 840.95,259.2 839.95,259.7 838.95,259.2 837.95,258.7 836.95,258.7 835.95,257.7 834.95,257.7 833.95,258.2 832.95,258.2 831.95,257.7 830.95,256.2 829.95,255.2 828.95,255.2 827.95,254.2 826.95,254.2 825.95,254.2 824.95,253.2 823.95,253.7 822.95,253.7 821.95,254.7 820.95,255.2 819.95,254.7 818.95,253.7 817.95,253.7 816.95,253.7 815.95,253.7 814.95,254.7 813.95,254.7 812.95,254.7 811.95,255.2 810.95,256.2 809.95,257.2 808.95,257.2 807.95,257.7 806.95,257.7 805.95,257.7 804.95,258.7 803.95,258.7 802.95,258.7 801.95,259.2 800.95,259.7 799.95,259.2 798.95,259.2 797.95,258.7 796.95,258.7 795.95,258.2 794.95,257.7 793.95,257.2 792.95,257.2 791.95,256.7 790.95,256.7 789.95,257.7 788.95,258.2 787.95,259.2 786.95,259.2 785.95,259.2 784.95,258.7 783.95,259.2 782.95,259.2 781.95,259.2 780.95,258.7 779.95,259.2 778.95,258.7 777.95,258.7 776.95,259.2 775.95,259.2 774.95,259.7 773.95,259.7 772.95,260.2 771.95,260.7 770.95,260.7 769.95,260.7 768.95,261.2 767.95,261.2 766.95,261.7 765.95,262.2 764.95,262.7 763.95,263.2 762.95,262.7 761.95,262.7 760.95,262.7 759.95,262.7 758.95,262.2 757.95,262.2 756.95,262.7 755.95,262.7 754.95,262.7 753.95,262.2 752.95,262.2 751.95,262.7 750.95,262.7 749.95,262.2 748.95,262.2 747.95,261.7 746.95,261.2 745.95,261.2 744.95,261.7 743.95,261.7 742.95,261.7 741.95,261.7 740.95,261.2 739.95,261.2 738.95,261.7 737.95,261.7 736.95,261.7 735.95,261.2 734.95,261.7 733.95,261.7 732.95,262.2 731.95,262.2 730.95,261.7 729.95,261.7 728.95,261.2 727.95,261.7 726.95,261.7 725.95,262.2 724.95,261.7 723.95,261.7 722.95,261.7 721.95,261.2 720.95,260.7 719.95,260.7 718.95,261.2 717.95,261.2 716.95,261.7 715.95,261.7 714.95,261.2 713.95,261.2 712.95,260.2 711.95,260.2 710.95,260.7 709.95,260.7 708.95,260.7 707.95,260.2 706.95,260.2 705.95,260.7 704.95,261.2 703.95,260.7 702.95,260.2 701.95,259.7 700.95,259.7 699.95,259.7 698.95,259.7 697.95,259.7 696.95,260.2 695.95,259.7 694.95,259.7 693.95,259.2 692.95,259.7 691.95,259.2 690.95,259.2 689.95,259.2 688.95,259.2 687.95,259.7 686.95,259.2 685.95,259.2 684.95,259.7 683.95,259.2 682.95,258.7 681.95,258.2 680.95,258.2 679.95,258.2 678.95,258.7 677.95,258.2 676.95,258.7 675.95,258.7 674.95,259.2 673.95,259.2 672.95,258.7 671.95,258.2 670.95,258.7 669.95,258.2 668.95,257.7 667.95,257.7 666.95,258.2 665.95,258.2 664.95,258.2 663.95,258.2 662.95,258.2 661.95,258.2 660.95,258.7 659.95,258.2 658.95,257.7 657.95,257.7 656.95,257.7 655.95,257.7 654.95,258.2 653.95,257.7 652.95,258.2 651.95,258.7 650.95,258.7 649.95,258.7 648.95,258.7 647.95,258.7 646.95,259.2 645.95,259.2 644.95,259.7 643.95,259.2 642.95,259.2 641.95,259.2 640.95,259.2 639.95,259.2 638.95,259.2 637.95,259.2 636.95,259.7 635.95,259.7 634.95,260.2 633.95,260.7 632.95,260.7 631.95,261.2 630.95,261.2 629.95,261.7 628.95,262.7 627.95,263.7 626.95,264.2 625.95,264.7 624.95,264.7 623.95,264.7 622.95,264.7 621.95,265.2 620.95,265.7 619.95,265.7 618.95,265.7 617.95,265.7 616.95,266.2 615.95,265.7 614.95,265.2 613.95,265.7 612.95,264.7 611.95,264.7 610.95,264.2 609.95,264.2 608.95,264.2 607.95,263.7 606.95,263.7 605.95,263.7 604.95,264.2 603.95,264.2 602.95,263.7 601.95,263.7 600.95,263.2 599.95,262.7 598.95,262.7 597.95,262.2 596.95,262.2 595.95,261.7 594.95,261.7 593.95,261.7 592.95,261.7 591.95,262.2 590.95,261.7 589.95,261.2 588.95,261.2 587.95,260.7 586.95,260.2 585.95,259.2 584.95,259.2 583.95,260.2 582.95,259.7 581.95,259.2 580.95,260.2 579.95,260.2 578.95,261.2 577.95,262.2 576.95,262.7 575.95,263.2 574.95,264.2 573.95,264.7 572.95,265.2 571.95,264.7 570.95,264.2 569.95,264.7 568.95,264.7 567.95,264.7 566.95,264.7 565.95,261.7 564.95,259.2 563.95,257.2 562.95,254.7 561.95,252.2 560.95,249.2 559.95,248.2 558.95,247.2 557.95,246.2 556.95,247.2 555.95,248.2 554.95,248.7 553.95,249.7 552.95,250.7 551.95,250.7 550.95,251.7 549.95,252.7 548.95,253.7 547.95,254.2 546.95,254.2 545.95,253.2 544.95,252.2 543.95,251.2 542.95,249.7 541.95,248.2 540.95,248.2 539.95,247.2 538.95,246.2 537.95,245.2 536.95,244.2 535.95,244.2 534.95,244.2 533.95,244.7 532.95,244.7 531.95,245.7 530.95,246.7 529.95,248.2 528.95,249.2 527.95,250.2 526.95,250.7 525.95,251.7 524.95,252.7 523.95,252.7 522.95,252.7 521.95,253.2 520.95,253.7 519.95,254.7 518.95,254.7 517.95,254.2 516.95,253.7 515.95,253.2 514.95,252.2 513.95,253.2 512.95,253.7 511.95,254.2 510.95,255.2 509.95,255.7 508.95,256.7 507.95,257.7 506.95,257.7 505.95,258.2 504.95,258.7 503.95,259.2 502.95,259.7 501.95,259.7 500.95,260.7 499.95,261.2 498.95,260.7 497.95,259.7 496.95,259.7 495.95,260.2 494.95,260.2 493.95,260.7 492.95,260.7 491.95,261.2 490.95,261.2 489.95,261.7 488.95,262.2 487.95,263.7 486.95,264.2 485.95,264.7 484.95,264.2 483.95,264.7 482.95,264.7 481.95,264.2 480.95,263.7 479.95,263.7 478.95,263.7 477.95,264.2 476.95,263.7 475.95,263.7 474.95,264.2 473.95,264.2 472.95,264.2 471.95,263.7 470.95,263.2 469.95,263.2 468.95,263.2 467.95,263.7 466.95,263.2 465.95,263.2 464.95,263.7 463.95,264.2 462.95,264.2 461.95,264.7 460.95,264.7 459.95,264.7 458.95,264.2 457.95,264.7 456.95,264.2 455.95,264.2 454.95,263.7 453.95,263.7 452.95,262.7 451.95,262.7 450.95,261.7 449.95,260.2 448.95,259.7 447.95,257.7 446.95,256.7 445.95,256.7 444.95,256.2 443.95,255.2 442.95,255.2 441.95,254.7 440.95,254.7 439.95,255.2 438.95,255.7 437.95,255.7 436.95,255.7 435.95,255.7 434.95,255.7 433.95,256.2 432.95,256.2 431.95,256.7 430.95,257.2 429.95,258.2 428.95,258.7 427.95,256.7 426.95,255.2 425.95,253.7 424.95,252.2 423.95,251.2 422.95,250.2 421.95,249.2 420.95,248.2 419.95,248.7 418.95,248.2 417.95,248.2 416.95,248.2 415.95,247.7 414.95,247.2 413.95,247.2 412.95,247.2 411.95,246.7 410.95,246.7 409.95,247.2 408.95,246.7 407.95,246.2 406.95,245.7 405.95,245.7 404.95,245.7 403.95,245.2 402.95,245.2 401.95,245.2 400.95,245.7 399.95,245.7 398.95,244.7 397.95,244.7 396.95,244.2 395.95,243.7 394.95,242.2 393.95,240.7 392.95,239.2 391.95,239.7 390.95,239.2 389.95,239.2 388.95,239.2 387.95,239.2 386.95,239.2 385.95,238.7 384.95,239.2 383.95,238.7 382.95,239.2 381.95,239.7 380.95,239.7 379.95,240.2 378.95,240.2 377.95,240.7 376.95,240.7 375.95,240.7 374.95,240.7 373.95,241.2 372.95,241.2 371.95,241.7 370.95,241.2 369.95,241.2 368.95,241.7 367.95,241.7 366.95,241.7 365.95,242.7 364.95,242.7 363.95,242.7 362.95,242.7 361.95,243.7 360.95,244.2 359.95,245.2 358.95,245.2 357.95,246.2 356.95,247.2 355.95,247.7 354.95,247.7 353.95,248.2 352.95,249.2 351.95,249.2 350.95,249.7 349.95,250.7 348.95,252.2 347.95,253.7 346.95,255.2 345.95,255.7 344.95,255.2 343.95,255.2 342.95,254.7 341.95,254.2 340.95,254.2 339.95,253.7 338.95,254.2 337.95,254.2 336.95,254.7 335.95,254.7 334.95,255.2 333.95,256.2 332.95,257.2 331.95,258.2 330.95,258.2 329.95,257.7 328.95,257.7 327.95,257.2 326.95,257.2 325.95,256.7 324.95,256.2 323.95,256.2 322.95,255.7 321.95,255.7 320.95,256.2 319.95,255.7 318.95,256.2 317.95,256.2 316.95,256.2 315.95,256.2 314.95,255.7 313.95,255.7 312.95,255.2 311.95,255.2 310.95,255.7 309.95,256.7 308.95,256.7 307.95,257.2 306.95,257.7 305.95,257.7 304.95,257.2 303.95,257.2 302.95,257.7 301.95,257.7 300.95,258.2 299.95,257.7 298.95,257.2 297.95,257.7 296.95,257.2 295.95,257.2 294.95,257.2 293.95,256.7 292.95,257.2 291.95,257.2 290.95,257.7 289.95,258.2 288.95,259.2 287.95,259.2 286.95,259.7 285.95,260.7 284.95,260.2 283.95,259.2 282.95,259.2 281.95,258.7 280.95,258.7 279.95,257.7 278.95,256.7 277.95,256.2 276.95,256.7 275.95,256.7 274.95,256.7 273.95,257.7 272.95,257.7 271.95,257.7 270.95,257.7 269.95,257.7 268.95,257.2 267.95,256.7 266.95,256.7 265.95,257.2 264.95,257.7 263.95,257.7 262.95,258.2 261.95,257.7 260.95,256.2 259.95,255.2 258.95,254.7 257.95,254.2 256.95,254.7 255.95,255.2 254.95,255.7 253.95,255.7 252.95,255.7 251.95,255.2 250.95,255.7 249.95,255.2 248.95,255.2 247.95,255.2 246.95,255.2 245.95,255.7 244.95,256.2 243.95,256.7 242.95,256.7 241.95,257.2 240.95,256.7 239.95,256.2 238.95,255.7 237.95,255.2 236.95,254.7 235.95,254.2 234.95,254.7 233.95,255.2 232.95,254.7 231.95,254.7 230.95,254.7 229.95,254.7 228.95,255.2 227.95,255.7 226.95,255.7 225.95,255.2 224.95,255.2 223.95,254.7 222.95,255.2 221.95,255.2 220.95,255.7 219.95,255.7 218.95,255.2 217.95,255.7 216.95,256.2 215.95,256.2 214.95,256.2 213.95,256.7 212.95,256.7 211.95,257.7 210.95,258.2 209.95,258.7 208.95,258.2 207.95,258.2 206.95,258.7 205.95,259.2 204.95,259.7 203.95,260.2 202.95,261.2 201.95,261.2 200.95,261.2 199.95,261.7 198.95,261.7 197.95,262.2 196.95,262.2 195.95,262.7 194.95,262.7 193.95,262.2 192.95,261.7 191.95,261.2 190.95,262.2 189.95,262.7 188.95,263.2 187.95,263.7 186.95,264.7 185.95,265.2 184.95,264.2 183.95,263.7 182.95,262.7 181.95,262.2 180.95,262.2 179.95,261.7 178.95,261.2 177.95,261.2 176.95,260.7 175.95,260.2 174.95,259.7 173.95,259.7 172.95,259.7 171.95,260.2 170.95,260.2 169.95,260.2 168.95,260.2 167.95,260.2 166.95,260.2 165.95,260.2 164.95,260.7 163.95,260.2 162.95,259.7 161.95,259.7 160.95,260.2 159.95,260.2 158.95,259.7 157.95,259.7 156.95,259.2 155.95,259.2 154.95,259.2 153.95,259.7 152.95,259.2 151.95,259.2 150.95,259.7 149.95,259.7 148.95,259.7 147.95,260.2 146.95,260.7 145.95,261.2 144.95,261.2 143.95,261.2 142.95,260.7 141.95,260.2 140.95,260.2 139.95,259.7 138.95,259.2 137.95,259.2 136.95,258.7 135.95,258.7 134.95,258.7 133.95,258.7 132.95,258.7 131.95,258.7 130.95,258.7 129.95,258.7 128.95,259.2 127.95,259.2 126.95,259.7 125.95,259.7 124.95,259.7 123.95,259.7 122.95,259.7 121.95,260.2 120.95,260.7 119.95,261.2 118.95,261.2 117.95,261.2 116.95,262.2 115.95,261.7 114.95,262.2 113.95,262.2 112.95,261.7 111.95,261.2 110.95,260.7 109.95,260.7 108.95,260.7 107.95,260.2 106.95,260.2 105.95,260.2 104.95,260.2 103.95,260.2 102.95,260.2 101.95,260.7 100.95,261.2 99.95,262.2 98.95,262.7 97.95,262.7 96.95,263.2 95.95,263.2 94.95,263.2 93.95,264.2 92.95,263.7 91.95,264.2 90.95,265.2 89.95,265.7 88.95,266.2 87.95,266.7 86.95,267.2 85.95,267.7 84.95,268.7 83.95,269.7 82.95,269.2 81.95,268.7 80.95,269.2 79.95,269.2 78.95,268.7 77.95,268.7 76.95,268.7 75.95,269.2 74.95,269.2 73.95,269.2 72.95,269.2 71.95,269.7 70.95,269.7 69.95,269.2 68.95,269.7 67.95,269.2 66.95,269.7" fill="#ffffff"/>
<polygon points="850,276 880.5,256.5 880.5,300.7 850,320" fill="#808080"/>
<path d="M850.5 276L880 256.7V300.7" stroke="#000" stroke-width="1" fill="none"/>
<polygon points="50,281 51,280.5 52,281 53,280.5 54,281 55,281 56,280.5 57,280.5 58,280.5 59,280.5 60,280 61,280 62,280 63,280.5 64,280.5 65,280 66,280.5 67,281 68,280 69,279 70,278.5 71,278 72,277.5 73,277 74,276.5 75,275.5 76,275 77,275.5 78,274.5 79,274.5 80,274.5 81,274 82,274 83,273.5 84,272.5 85,272 86,271.5 87,271.5 88,271.5 89,271.5 90,271.5 91,271.5 92,272 93,272 94,272 95,272.5 96,273 97,273.5 98,273.5 99,273 100,273.5 101,272.5 102,272.5 103,272.5 104,272 105,271.5 106,271 107,271 108,271 109,271 110,271 111,270.5 112,270.5 113,270 114,270 115,270 116,270 117,270 118,270 119,270 120,270 121,270.5 122,270.5 123,271 124,271.5 125,271.5 126,272 127,272.5 128,272.5 129,272.5 130,272 131,271.5 132,271 133,271 134,271 135,270.5 136,270.5 137,271 138,270.5 139,270.5 140,270.5 141,271 142,271 143,271.5 144,271.5 145,271 146,271 147,271.5 148,272 149,271.5 150,271.5 151,271.5 152,271.5 153,271.5 154,271.5 155,271.5 156,271 157,271 158,271 159,271.5 160,272 161,272.5 162,272.5 163,273 164,273.5 165,273.5 166,274 167,275 168,275.5 169,276.5 170,276 171,275 172,274.5 173,274 174,273.5 175,272.5 176,273 177,273.5 178,274 179,274 180,273.5 181,273.5 182,273 183,273 184,272.5 185,272.5 186,272.5 187,271.5 188,271 189,270.5 190,270 191,269.5 192,269.5 193,270 194,269.5 195,269 196,268 197,268 198,267.5 199,267.5 200,267.5 201,267 202,266.5 203,267 204,267 205,266.5 206,266.5 207,266 208,266.5 209,266.5 210,267 211,267 212,266.5 213,266 214,266 215,266 216,266 217,266.5 218,266 219,265.5 220,266 221,266.5 222,267 223,267.5 224,268 225,268.5 226,268 227,268 228,267.5 229,267 230,266.5 231,266.5 232,266.5 233,266.5 234,267 235,266.5 236,267 237,267 238,267 239,266.5 240,266 241,265.5 242,266 243,266.5 244,267.5 245,269 246,269.5 247,269 248,269 249,268.5 250,268 251,268 252,268.5 253,269 254,269 255,269 256,269 257,269 258,268 259,268 260,268 261,267.5 262,268 263,269 264,270 265,270 266,270.5 267,270.5 268,271.5 269,272 270,271 271,270.5 272,270.5 273,269.5 274,269 275,268.5 276,268.5 277,268 278,268.5 279,268.5 280,268.5 281,269 282,268.5 283,269 284,269.5 285,269 286,269 287,268.5 288,268.5 289,269 290,269 291,268.5 292,268 293,268 294,267 295,266.5 296,266.5 297,267 298,267 299,267.5 300,267.5 301,267.5 302,267.5 303,267 304,267.5 305,267 306,267 307,267.5 308,267.5 309,268 310,268.5 311,268.5 312,269 313,269 314,269.5 315,269.5 316,268.5 317,267.5 318,266.5 319,266 320,266 321,265.5 322,265.5 323,265 324,265.5 325,265.5 326,266 327,266.5 328,266.5 329,267 330,266.5 331,265 332,263.5 333,262 334,261 335,260.5 336,260.5 337,259.5 338,259 339,259 340,258.5 341,257.5 342,256.5 343,256.5 344,255.5 345,255 346,254 347,254 348,254 349,254 350,253 351,253 352,253 353,252.5 354,252.5 355,253 356,252.5 357,252.5 358,252 359,252 360,252 361,252 362,251.5 363,251.5 364,251 365,251 366,250.5 367,250 368,250.5 369,250 370,250.5 371,250.5 372,250.5 373,250.5 374,250.5 375,251 376,250.5 377,252 378,253.5 379,255 380,255.5 381,256 382,256 383,257 384,257 385,256.5 386,256.5 387,256.5 388,257 389,257 390,257 391,257.5 392,258 393,258.5 394,258 395,258 396,258.5 397,258.5 398,258.5 399,259 400,259.5 401,259.5 402,259.5 403,260 404,259.5 405,260.5 406,261.5 407,262.5 408,263.5 409,265 410,266.5 411,268 412,270 413,269.5 414,268.5 415,268 416,267.5 417,267.5 418,267 419,267 420,267 421,267 422,267 423,266.5 424,266 425,266 426,266.5 427,266.5 428,267.5 429,268 430,268 431,269 432,271 433,271.5 434,273 435,274 436,274 437,275 438,275 439,275.5 440,275.5 441,276 442,275.5 443,276 444,276 445,276 446,275.5 447,275.5 448,275 449,274.5 450,274.5 451,275 452,274.5 453,274.5 454,274.5 455,275 456,275.5 457,275.5 458,275.5 459,275 460,275 461,275.5 462,275 463,275 464,275 465,275.5 466,276 467,276 468,275.5 469,276 470,275.5 471,275 472,273.5 473,273 474,272.5 475,272.5 476,272 477,272 478,271.5 479,271.5 480,271 481,271 482,272 483,272.5 484,272 485,271 486,271 487,270.5 488,270 489,269.5 490,269 491,269 492,268 493,267 494,266.5 495,265.5 496,265 497,264.5 498,263.5 499,264.5 500,265 501,265.5 502,266 503,266 504,265 505,264.5 506,264 507,264 508,264 509,263 510,262 511,261.5 512,260.5 513,259.5 514,258 515,257 516,256 517,256 518,255.5 519,255.5 520,255.5 521,256.5 522,257.5 523,258.5 524,259.5 525,259.5 526,261 527,262.5 528,263.5 529,264.5 530,265.5 531,265.5 532,265 533,264 534,263 535,262 536,262 537,261 538,260 539,259.5 540,258.5 541,257.5 542,258.5 543,259.5 544,260.5 545,263.5 546,266 547,268.5 548,270.5 549,273 550,276 551,276 552,276 553,276 554,275.5 555,276 556,276.5 557,276 558,275.5 559,274.5 560,274 561,273.5 562,272.5 563,271.5 564,271.5 565,270.5 566,271 567,271.5 568,270.5 569,270.5 570,271.5 571,272 572,272.5 573,272.5 574,273 575,273.5 576,273 577,273 578,273 579,273 580,273.5 581,273.5 582,274 583,274 584,274.5 585,275 586,275 587,275.5 588,275.5 589,275 590,275 591,275 592,275.5 593,275.5 594,275.5 595,276 596,276 597,277 598,276.5 599,277 600,277.5 601,277 602,277 603,277 604,277 605,276.5 606,276 607,276 608,276 609,276 610,275.5 611,275 612,274 613,273 614,272.5 615,272.5 616,272 617,272 618,271.5 619,271 620,271 621,270.5 622,270.5 623,270.5 624,270.5 625,270.5 626,270.5 627,270.5 628,271 629,270.5 630,270.5 631,270 632,270 633,270 634,270 635,270 636,269.5 637,269 638,269.5 639,269 640,269 641,269 642,269 643,269.5 644,270 645,269.5 646,269.5 647,269.5 648,269.5 649,269.5 650,269.5 651,269 652,269 653,269.5 654,270 655,269.5 656,270 657,270.5 658,270.5 659,270 660,270 661,269.5 662,270 663,269.5 664,269.5 665,269.5 666,270 667,270.5 668,271 669,270.5 670,270.5 671,271 672,270.5 673,270.5 674,270.5 675,270.5 676,271 677,270.5 678,271 679,271 680,271.5 681,271 682,271 683,271 684,271 685,271 686,271.5 687,272 688,272.5 689,272 690,271.5 691,271.5 692,272 693,272 694,272 695,271.5 696,271.5 697,272.5 698,272.5 699,273 700,273 701,272.5 702,272.5 703,272 704,272 705,272.5 706,273 707,273 708,273 709,273.5 710,273 711,273 712,272.5 713,273 714,273 715,273.5 716,273.5 717,273 718,273 719,272.5 720,273 721,273 722,273 723,272.5 724,272.5 725,273 726,273 727,273 728,273 729,272.5 730,272.5 731,273 732,273.5 733,273.5 734,274 735,274 736,273.5 737,273.5 738,274 739,274 740,274 741,273.5 742,273.5 743,274 744,274 745,274 746,274 747,274.5 748,274 749,273.5 750,273 751,272.5 752,272.5 753,272 754,272 755,272 756,271.5 757,271 758,271 759,270.5 760,270.5 761,270 762,270 763,270.5 764,270 765,270.5 766,270.5 767,270.5 768,270 769,270.5 770,270.5 771,270.5 772,269.5 773,269 774,268 775,268 776,268.5 777,268.5 778,269 779,269.5 780,270 781,270 782,270.5 783,270.5 784,271 785,270.5 786,270 787,270 788,270 789,269 790,269 791,269 792,268.5 793,268.5 794,267.5 795,266.5 796,266 797,266 798,266 799,265 800,265 801,265 802,265 803,266 804,266.5 805,266 806,265 807,265 808,264.5 809,265.5 810,265.5 811,265.5 812,266.5 813,266.5 814,267.5 815,269 816,269.5 817,269.5 818,269 819,269 820,270 821,270 822,270.5 823,271 824,270.5 825,271 826,271.5 827,272 828,272 829,272.5 830,273 831,273 832,273.5 833,275 834,276 835,277 836,277.5 837,277 838,277 839,277 840,277.5 841,278 842,278 843,277.5 844,277 845,277 846,277 847,276.5 848,276.5 849,276.5 850,276 850,320 50,320" fill="#ffff00"/>
<polyline points="50,281 51,280.5 52,281 53,280.5 54,281 55,281 56,280.5 57,280.5 58,280.5 59,280.5 60,280 61,280 62,280 63,280.5 64,280.5 65,280 66,280.5 67,281 68,280 69,279 70,278.5 71,278 72,277.5 73,277 74,276.5 75,275.5 76,275 77,275.5 78,274.5 79,274.5 80,274.5 81,274 82,274 83,273.5 84,272.5 85,272 86,271.5 87,271.5 88,271.5 89,271.5 90,271.5 91,271.5 92,272 93,272 94,272 95,272.5 96,273 97,273.5 98,273.5 99,273 100,273.5 101,272.5 102,272.5 103,272.5 104,272 105,271.5 106,271 107,271 108,271 109,271 110,271 111,270.5 112,270.5 113,270 114,270 115,270 116,270 117,270 118,270 119,270 120,270 121,270.5 122,270.5 123,271 124,271.5 125,271.5 126,272 127,272.5 128,272.5 129,272.5 130,272 131,271.5 132,271 133,271 134,271 135,270.5 136,270.5 137,271 138,270.5 139,270.5 140,270.5 141,271 142,271 143,271.5 144,271.5 145,271 146,271 147,271.5 148,272 149,271.5 150,271.5 151,271.5 152,271.5 153,271.5 154,271.5 155,271.5 156,271 157,271 158,271 159,271.5 160,272 161,272.5 162,272.5 163,273 164,273.5 165,273.5 166,274 167,275 168,275.5 169,276.5 170,276 171,275 172,274.5 173,274 174,273.5 175,272.5 176,273 177,273.5 178,274 179,274 180,273.5 181,273.5 182,273 183,273 184,272.5 185,272.5 186,272.5 187,271.5 188,271 189,270.5 190,270 191,269.5 192,269.5 193,270 194,269.5 195,269 196,268 197,268 198,267.5 199,267.5 200,267.5 201,267 202,266.5 203,267 204,267 205,266.5 206,266.5 207,266 208,266.5 209,266.5 210,267 211,267 212,266.5 213,266 214,266 215,266 216,266 217,266.5 218,266 219,265.5 220,266 221,266.5 222,267 223,267.5 224,268 225,268.5 226,268 227,268 228,267.5 229,267 230,266.5 231,266.5 232,266.5 233,266.5 234,267 235,266.5 236,267 237,267 238,267 239,266.5 240,266 241,265.5 242,266 243,266.5 244,267.5 245,269 246,269.5 247,269 248,269 249,268.5 250,268 251,268 252,268.5 253,269 254,269 255,269 256,269 257,269 258,268 259,268 260,268 261,267.5 262,268 263,269 264,270 265,270 266,270.5 267,270.5 268,271.5 269,272 270,271 271,270.5 272,270.5 273,269.5 274,269 275,268.5 276,268.5 277,268 278,268.5 279,268.5 280,268.5 281,269 282,268.5 283,269 284,269.5 285,269 286,269 287,268.5 288,268.5 289,269 290,269 291,268.5 292,268 293,268 294,267 295,266.5 296,266.5 297,267 298,267 299,267.5 300,267.5 301,267.5 302,267.5 303,267 304,267.5 305,267 306,267 307,267.5 308,267.5 309,268 310,268.5 311,268.5 312,269 313,269 314,269.5 315,269.5 316,268.5 317,267.5 318,266.5 319,266 320,266 321,265.5 322,265.5 323,265 324,265.5 325,265.5 326,266 327,266.5 328,266.5 329,267 330,266.5 331,265 332,263.5 333,262 334,261 335,260.5 336,260.5 337,259.5 338,259 339,259 340,258.5 341,257.5 342,256.5 343,256.5 344,255.5 345,255 346,254 347,254 348,254 349,254 350,253 351,253 352,253 353,252.5 354,252.5 355,253 356,252.5 357,252.5 358,252 359,252 360,252 361,252 362,251.5 363,251.5 364,251 365,251 366,250.5 367,250 368,250.5 369,250 370,250.5 371,250.5 372,250.5 373,250.5 374,250.5 375,251 376,250.5 377,252 378,253.5 379,255 380,255.5 381,256 382,256 383,257 384,257 385,256.5 386,256.5 387,256.5 388,257 389,257 390,257 391,257.5 392,258 393,258.5 394,258 395,258 396,258.5 397,258.5 398,258.5 399,259 400,259.5 401,259.5 402,259.5 403,260 404,259.5 405,260.5 406,261.5 407,262.5 408,263.5 409,265 410,266.5 411,268 412,270 413,269.5 414,268.5 415,268 416,267.5 417,267.5 418,267 419,267 420,267 421,267 422,267 423,266.5 424,266 425,266 426,266.5 427,266.5 428,267.5 429,268 430,268 431,269 432,271 433,271.5 434,273 435,274 436,274 437,275 438,275 439,275.5 440,275.5 441,276 442,275.5 443,276 444,276 445,276 446,275.5 447,275.5 448,275 449,274.5 450,274.5 451,275 452,274.5 453,274.5 454,274.5 455,275 456,275.5 457,275.5 458,275.5 459,275 460,275 461,275.5 462,275 463,275 464,275 465,275.5 466,276 467,276 468,275.5 469,276 470,275.5 471,275 472,273.5 473,273 474,272.5 475,272.5 476,272 477,272 478,271.5 479,271.5 480,271 481,271 482,272 483,272.5 484,272 485,271 486,271 487,270.5 488,270 489,269.5 490,269 491,269 492,268 493,267 494,266.5 495,265.5 496,265 497,264.5 498,263.5 499,264.5 500,265 501,265.5 502,266 503,266 504,265 505,264.5 506,264 507,264 508,264 509,263 510,262 511,261.5 512,260.5 513,259.5 514,258 515,257 516,256 517,256 518,255.5 519,255.5 520,255.5 521,256.5 522,257.5 523,258.5 524,259.5 525,259.5 526,261 527,262.5 528,263.5 529,264.5 530,265.5 531,265.5 532,265 533,264 534,263 535,262 536,262 537,261 538,260 539,259.5 540,258.5 541,257.5 542,258.5 543,259.5 544,260.5 545,263.5 546,266 547,268.5 548,270.5 549,273 550,276 551,276 552,276 553,276 554,275.5 555,276 556,276.5 557,276 558,275.5 559,274.5 560,274 561,273.5 562,272.5 563,271.5 564,271.5 565,270.5 566,271 567,271.5 568,270.5 569,270.5 570,271.5 571,272 572,272.5 573,272.5 574,273 575,273.5 576,273 577,273 578,273 579,273 580,273.5 581,273.5 582,274 583,274 584,274.5 585,275 586,275 587,275.5 588,275.5 589,275 590,275 591,275 592,275.5 593,275.5 594,275.5 595,276 596,276 597,277 598,276.5 599,277 600,277.5 601,277 602,277 603,277 604,277 605,276.5 606,276 607,276 608,276 609,276 610,275.5 611,275 612,274 613,273 614,272.5 615,272.5 616,272 617,272 618,271.5 619,271 620,271 621,270.5 622,270.5 623,270.5 624,270.5 625,270.5 626,270.5 627,270.5 628,271 629,270.5 630,270.5 631,270 632,270 633,270 634,270 635,270 636,269.5 637,269 638,269.5 639,269 640,269 641,269 642,269 643,269.5 644,270 645,269.5 646,269.5 647,269.5 648,269.5 649,269.5 650,269.5 651,269 652,269 653,269.5 654,270 655,269.5 656,270 657,270.5 658,270.5 659,270 660,270 661,269.5 662,270 663,269.5 664,269.5 665,269.5 666,270 667,270.5 668,271 669,270.5 670,270.5 671,271 672,270.5 673,270.5 674,270.5 675,270.5 676,271 677,270.5 678,271 679,271 680,271.5 681,271 682,271 683,271 684,271 685,271 686,271.5 687,272 688,272.5 689,272 690,271.5 691,271.5 692,272 693,272 694,272 695,271.5 696,271.5 697,272.5 698,272.5 699,273 700,273 701,272.5 702,272.5 703,272 704,272 705,272.5 706,273 707,273 708,273 709,273.5 710,273 711,273 712,272.5 713,273 714,273 715,273.5 716,273.5 717,273 718,273 719,272.5 720,273 721,273 722,273 723,272.5 724,272.5 725,273 726,273 727,273 728,273 729,272.5 730,272.5 731,273 732,273.5 733,273.5 734,274 735,274 736,273.5 737,273.5 738,274 739,274 740,274 741,273.5 742,273.5 743,274 744,274 745,274 746,274 747,274.5 748,274 749,273.5 750,273 751,272.5 752,272.5 753,272 754,272 755,272 756,271.5 757,271 758,271 759,270.5 760,270.5 761,270 762,270 763,270.5 764,270 765,270.5 766,270.5 767,270.5 768,270 769,270.5 770,270.5 771,270.5 772,269.5 773,269 774,268 775,268 776,268.5 777,268.5 778,269 779,269.5 780,270 781,270 782,270.5 783,270.5 784,271 785,270.5 786,270 787,270 788,270 789,269 790,269 791,269 792,268.5 793,268.5 794,267.5 795,266.5 796,266 797,266 798,266 799,265 800,265 801,265 802,265 803,266 804,266.5 805,266 806,265 807,265 808,264.5 809,265.5 810,265.5 811,265.5 812,266.5 813,266.5 814,267.5 815,269 816,269.5 817,269.5 818,269 819,269 820,270 821,270 822,270.5 823,271 824,270.5 825,271 826,271.5 827,272 828,272 829,272.5 830,273 831,273 832,273.5 833,275 834,276 835,277 836,277.5 837,277 838,277 839,277 840,277.5 841,278 842,278 843,277.5 844,277 845,277 846,277 847,276.5 848,276.5 849,276.5 850,276" fill="none" stroke="#000" stroke-width="1.3" stroke-linejoin="round"/>
<path d="M50.5 281V320M850.5 276V320" stroke="#000" stroke-width="1" fill="none"/>
<!-- scale bar -->
<rect x="50.5" y="320.5" width="800" height="4" fill="#fff" stroke="#000" stroke-width="1"/>
<path d="M123 322.5H198M272 322.5H347M421 322.5H496M570 322.5H645M719 322.5H794" stroke="#000" stroke-width="5" fill="none"/>
<!-- logo -->
<text x="620" y="292" font-size="23.5" font-weight="bold" fill="#000" textLength="109" lengthAdjust="spacingAndGlyphs">HRMProfil</text>
<text x="732" y="292" font-size="9" font-weight="bold" fill="#000" textLength="54" lengthAdjust="spacingAndGlyphs">für Windows</text>
<path d="M620 295.5H847" stroke="#000" stroke-width="3"/>
<path d="M621.5 295.5H847" stroke="#fff" stroke-width="1" stroke-dasharray="16 19"/>
<text x="635" y="315" font-size="18" fill="#000" stroke="#000" stroke-width="0.5" textLength="197" lengthAdjust="spacingAndGlyphs" xml:space="preserve" style="white-space:pre">Shareware Trial  Version</text>
<path d="M808.5 290.5V280.5l1.5 1.5 1.5-0.5 1.5 1 1.5-1.5 1.2-4h1.4l1.2 3.5 1.5 1.5 1.5 0.5 1 0.5 2.5-0.8 2 0.3 2.5-1 2.5-0.5 1-1.5 1.2-3h1.4l1 3.5 1.2 1.8 1.5-0.3 0.8-2.5 1.4-4.5h1l1.4 4 1.7 1.2V290.5Z" fill="#2230ac" stroke="#141c58" stroke-width="1.1" stroke-linejoin="round"/>
<!-- markers -->
<path d="M229.5 212V254M337.5 212V245M416.5 212V251M476.5 212V258M541.5 212V242M562.5 212V256M638.5 212V256M850.5 212V264" stroke="#000" stroke-width="1" fill="none"/>
<polygon points="237.17,264.30 232.68,268.97 226.32,268.97 221.83,264.30 221.83,257.70 226.32,253.03 232.68,253.03 237.17,257.70" fill="#d41818" stroke="#e89090" stroke-width="0.6"/><text x="229.5" y="264.2" font-size="9" font-weight="bold" fill="#fff" text-anchor="middle" textLength="12.5" lengthAdjust="spacingAndGlyphs" transform="translate(0,0)">STOP</text><polygon points="484.17,268.30 479.68,272.97 473.32,272.97 468.83,268.30 468.83,261.70 473.32,257.03 479.68,257.03 484.17,261.70" fill="#d41818" stroke="#e89090" stroke-width="0.6"/><text x="476.5" y="268.2" font-size="9" font-weight="bold" fill="#fff" text-anchor="middle" textLength="12.5" lengthAdjust="spacingAndGlyphs" transform="translate(0,0)">STOP</text><polygon points="646.17,265.80 641.68,270.47 635.32,270.47 630.83,265.80 630.83,259.20 635.32,254.53 641.68,254.53 646.17,259.20" fill="#d41818" stroke="#e89090" stroke-width="0.6"/><text x="638.5" y="265.7" font-size="9" font-weight="bold" fill="#fff" text-anchor="middle" textLength="12.5" lengthAdjust="spacingAndGlyphs" transform="translate(0,0)">STOP</text>
<polygon points="337.5,244.4 344.2,257.79999999999995 331.0,257.79999999999995" fill="#fff" stroke="#a82626" stroke-width="2.3" stroke-linejoin="round"/><polygon points="338.4,248.2 342.4,256.79999999999995 334.5,256.79999999999995" fill="#1a0606"/><path d="M334.3 257.0H342.5" stroke="#5a0c0c" stroke-width="1.2"/><polygon points="416.7,251.0 423.4,264.4 410.2,264.4" fill="#fff" stroke="#a82626" stroke-width="2.3" stroke-linejoin="round"/><polygon points="417.59999999999997,254.79999999999998 421.59999999999997,263.4 413.7,263.4" fill="#1a0606"/><path d="M413.5 263.6H421.7" stroke="#5a0c0c" stroke-width="1.2"/><polygon points="541.7,242.0 548.4,255.4 535.2,255.4" fill="#fff" stroke="#a82626" stroke-width="2.3" stroke-linejoin="round"/><polygon points="542.6,245.79999999999998 546.6,254.4 538.7,254.4" fill="#1a0606"/><path d="M538.5 254.6H546.7" stroke="#5a0c0c" stroke-width="1.2"/><polygon points="562.6,256.4 569.3,269.79999999999995 556.1,269.79999999999995" fill="#fff" stroke="#a82626" stroke-width="2.3" stroke-linejoin="round"/><polygon points="563.5,260.2 567.5,268.79999999999995 559.6,268.79999999999995" fill="#1a0606"/><path d="M559.4 269.0H567.6" stroke="#5a0c0c" stroke-width="1.2"/>
<!-- start / ziel houses -->
<rect x="45" y="273.5" width="11.5" height="7.5" fill="#008000"/><polygon points="50.5,267.5 57,274 44,274" fill="#000"/>
<rect x="844.5" y="269.5" width="12.5" height="7.5" fill="#ee1010"/><polygon points="850.5,263 857.5,270 843.5,270" fill="#000"/>
<g class="t13">
<text x="46" y="205">Start</text>
<text x="225" y="205">Kontrolle</text>
<text x="333" y="205">5%</text>
<text x="412" y="205">8%</text>
<text x="471" y="205">Kontrolle</text>
<text x="537" y="205">9%</text>
<text x="558" y="205">7%</text>
<text x="633" y="205">Kontrolle</text>
<text x="846" y="205">Ziel</text>
</g>
<text x="417" y="222" class="t11 m" text-anchor="end">260 m</text>
<!-- bottom rows -->
<g class="t11">
<text x="48" y="338">km</text>
<g text-anchor="middle">
<text x="123.5" y="338">10</text><text x="198" y="338">20</text><text x="272.5" y="338">30</text><text x="347" y="338">40</text><text x="421.5" y="338">50</text>
<text x="495.5" y="338">60</text><text x="570" y="338">70</text><text x="645" y="338">80</text><text x="720" y="338">90</text><text x="796.5" y="338">100</text>
</g>
<text x="48" y="373">km/h</text>
<g text-anchor="middle">
<text x="125.5" y="373">28,94</text><text x="250.5" y="373">29,68</text><text x="376" y="373">30,61</text><text x="500.5" y="373">30,24</text><text x="626" y="373">30,72</text><text x="751" y="373">30,06</text>
</g>
</g>
<g class="t11 m">
<text x="48" y="355.5">hm</text>
<g text-anchor="middle">
<text x="125.5" y="355.5">53</text><text x="250.5" y="355.5">139</text><text x="376" y="355.5">262</text><text x="500" y="355.5">352</text><text x="626" y="355.5">498</text><text x="751" y="355.5">520</text>
</g>
</g>
</svg>
</body></html>
